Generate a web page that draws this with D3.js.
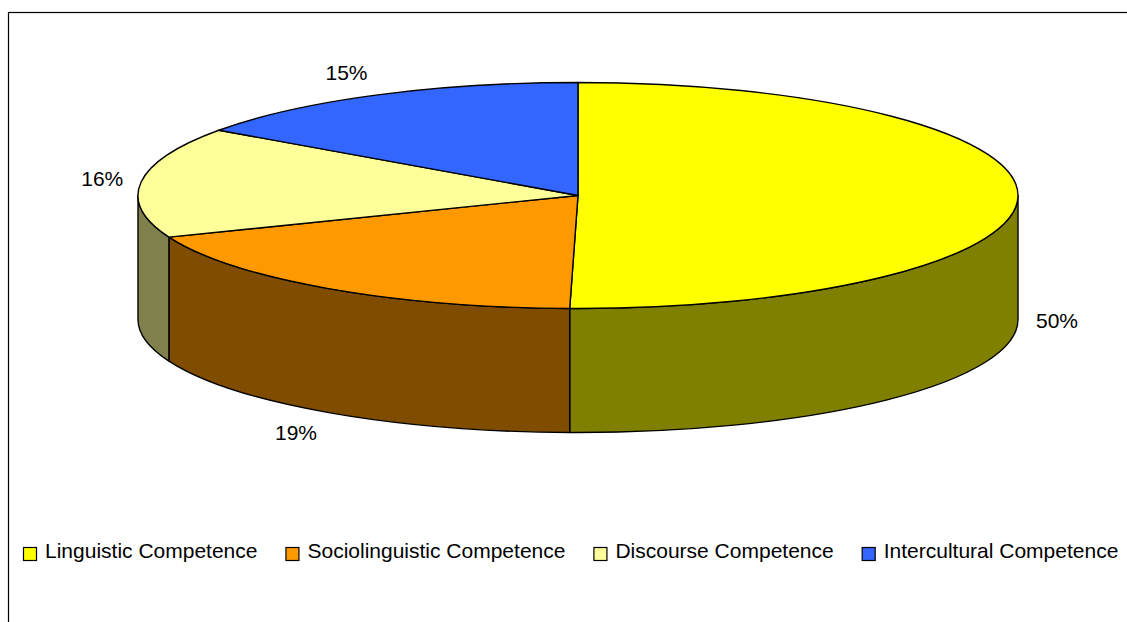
<!DOCTYPE html>
<html>
<head>
<meta charset="utf-8">
<script src="https://cdn.jsdelivr.net/npm/d3@7"></script>
<style>
  body { margin: 0; background: #fff; }
  svg { display: block; font-family: "Liberation Sans", Arial, sans-serif; }
</style>
</head>
<body>
<div id="chart"></div>
<script>
const categories = ['Linguistic Competence', 'Sociolinguistic Competence', 'Discourse Competence', 'Intercultural Competence'];
const values = [50.3, 18.7, 15.8, 15.2];
const labels = ['50%', '19%', '16%', '15%'];
const topColors = ['#ffff00', '#ff9900', '#ffff99', '#3366ff'];
const sideColors = ['#808000', '#804c00', '#80804c', '#1a3380'];

//page + pie geometry (ellipse seen from above, with a depth)
const width = 1127;
const height = 622;
const cx = 578, cy = 195.5, rx = 440, ry = 113, depth = 124;

const svg = d3.select('#chart')
  .append('svg')
  .attr('width', width)
  .attr('height', height);

//chart frame, runs off right/bottom like the original
svg.append('rect')
  .attr('x', 8.5).attr('y', 12.5)
  .attr('width', 1130).attr('height', 620)
  .attr('fill', '#fff')
  .attr('stroke', '#000')
  .attr('stroke-width', 1.2);

const topColor = d3.scaleOrdinal().domain(categories).range(topColors);
const sideColor = d3.scaleOrdinal().domain(categories).range(sideColors);

//angles: 0 = 12 o'clock, clockwise
const arcs = d3.pie().sort(null).value(d => d)(values)
  .map((a, i) => ({ ...a, cat: categories[i], label: labels[i] }));

const pt = (a, dy = 0) => [cx + rx * Math.sin(a), cy - ry * Math.cos(a) + dy];

function topPath(d) {
  const p0 = pt(d.startAngle), p1 = pt(d.endAngle);
  const large = d.endAngle - d.startAngle > Math.PI ? 1 : 0;
  return `M${cx},${cy}L${p0}A${rx},${ry} 0 ${large} 1 ${p1}Z`;
}

//only the front half (90deg..270deg) of the wall shows
function sidePath(d) {
  const s0 = Math.max(d.startAngle, Math.PI / 2);
  const s1 = Math.min(d.endAngle, 3 * Math.PI / 2);
  if (s0 >= s1) return null;
  return `M${pt(s0)}A${rx},${ry} 0 0 1 ${pt(s1)}` +
    `L${pt(s1, depth)}A${rx},${ry} 0 0 0 ${pt(s0, depth)}Z`;
}

const pieG = svg.append('g')
  .attr('stroke', '#000')
  .attr('stroke-width', 1.4)
  .attr('stroke-linejoin', 'round');

pieG.selectAll('path.side')
  .data(arcs.filter(d => sidePath(d)))
  .join('path')
    .attr('class', 'side')
    .attr('d', sidePath)
    .attr('fill', d => sideColor(d.cat));

pieG.selectAll('path.top')
  .data(arcs)
  .join('path')
    .attr('class', 'top')
    .attr('d', topPath)
    .attr('fill', d => topColor(d.cat));

//percentage labels just outside each slice
svg.append('g')
  .attr('font-size', '21px')
  .attr('fill', '#000')
  .selectAll('text')
  .data(arcs)
  .join('text')
    .attr('x', d => {
      const m = (d.startAngle + d.endAngle) / 2;
      return cx + (rx + 18) * Math.sin(m);
    })
    .attr('y', d => {
      const m = (d.startAngle + d.endAngle) / 2;
      return cy - (ry + 25) * Math.cos(m) + (Math.cos(m) < 0 ? depth : 0);
    })
    .attr('dy', '0.35em')
    .attr('text-anchor', d => Math.sin((d.startAngle + d.endAngle) / 2) < 0 ? 'end' : 'start')
    .text(d => d.label);

//legend along the bottom
const legend = svg.append('g').attr('font-size', '21px');
let lx = 23;
categories.forEach(c => {
  legend.append('rect')
    .attr('x', lx + 0.5).attr('y', 547.5)
    .attr('width', 13).attr('height', 13)
    .attr('fill', topColor(c))
    .attr('stroke', '#000')
    .attr('stroke-width', 1.2);
  const t = legend.append('text')
    .attr('x', lx + 22)
    .attr('y', 558)
    .attr('fill', '#000')
    .text(c);
  lx += 22 + t.node().getComputedTextLength() + 28;
});
</script>
</body>
</html>
